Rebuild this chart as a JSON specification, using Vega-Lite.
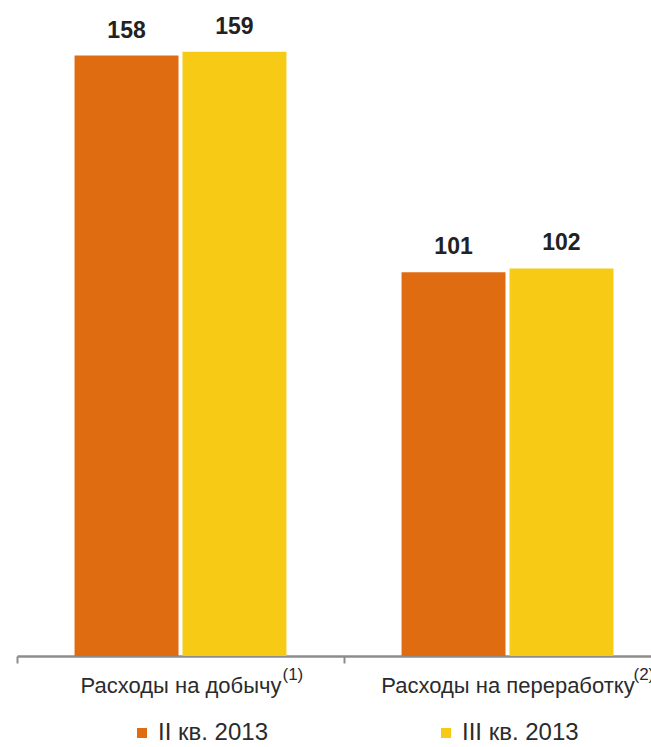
{
  "$schema": "https://vega.github.io/schema/vega-lite/v6.json",
  "autosize": "none",
  "width": 634,
  "height": 646,
  "padding": {"left": 17, "top": 10, "right": 0, "bottom": 91},
  "background": "white",
  "config": {"view": {"stroke": null}, "font": "Liberation Sans"},
  "data": {
    "values": [
      {"cat": "Расходы на добычу", "note": "(1)", "period": "II кв. 2013", "value": 158},
      {"cat": "Расходы на добычу", "note": "(1)", "period": "III кв. 2013", "value": 159},
      {"cat": "Расходы на переработку", "note": "(2)", "period": "II кв. 2013", "value": 101},
      {"cat": "Расходы на переработку", "note": "(2)", "period": "III кв. 2013", "value": 102}
    ]
  },
  "encoding": {
    "x": {
      "field": "cat",
      "type": "nominal",
      "sort": ["Расходы на добычу", "Расходы на переработку"],
      "scale": {"range": [0, 654], "paddingInner": 0.352, "paddingOuter": 0.176},
      "axis": {
        "title": null,
        "labelFont": "Liberation Sans",
        "labelFontSize": 22,
        "labelColor": "#2b2b2b",
        "labelBaseline": "alphabetic",
        "labelPadding": 29,
        "tickOffset": -163.5,
        "labelOffset": 163.5,
        "labelAngle": 0,
        "labelLimit": 500,
        "labelOverlap": false,
        "tickSize": 7,
        "tickWidth": 2,
        "tickColor": "#8c8c8c",
        "domainColor": "#8c8c8c",
        "domainWidth": 2.5
      }
    },
    "y": {
      "field": "value",
      "type": "quantitative",
      "scale": {"domain": [0, 170]},
      "axis": null
    }
  },
  "layer": [
    {
      "mark": {"type": "bar"},
      "encoding": {
        "xOffset": {
          "field": "period",
          "type": "nominal",
          "sort": ["II кв. 2013", "III кв. 2013"],
          "scale": {"paddingInner": 0.037, "paddingOuter": 0}
        },
        "color": {
          "field": "period",
          "type": "nominal",
          "scale": {"domain": ["II кв. 2013", "III кв. 2013"], "range": ["#E06C12", "#F7CB15"]},
          "legend": {
            "orient": "none",
            "legendX": 113,
            "legendY": 711,
            "direction": "horizontal",
            "title": null,
            "symbolType": "square",
            "symbolSize": 100,
            "symbolStrokeWidth": 0,
            "labelFont": "Liberation Sans",
            "labelFontSize": 24,
            "labelColor": "#2b2b2b",
            "labelOffset": 4,
            "labelLimit": 300,
            "columnPadding": 166,
            "padding": 0
          }
        }
      }
    },
    {
      "mark": {"type": "text", "dy": -18, "baseline": "alphabetic", "fontSize": 23, "fontWeight": "bold", "color": "#222222"},
      "encoding": {
        "xOffset": {
          "field": "period",
          "type": "nominal",
          "sort": ["II кв. 2013", "III кв. 2013"]
        },
        "text": {"field": "value", "type": "quantitative"}
      }
    },
    {
      "transform": [{"filter": "datum.period == 'II кв. 2013' && datum.cat == 'Расходы на добычу'"}],
      "mark": {"type": "text", "align": "left", "baseline": "alphabetic", "dx": 102, "dy": 24, "fontSize": 17, "color": "#2b2b2b"},
      "encoding": {
        "y": {"datum": 0},
        "text": {"field": "note", "type": "nominal"}
      }
    },
    {
      "transform": [{"filter": "datum.period == 'II кв. 2013' && datum.cat == 'Расходы на переработку'"}],
      "mark": {"type": "text", "align": "left", "baseline": "alphabetic", "dx": 126, "dy": 24, "fontSize": 17, "color": "#2b2b2b"},
      "encoding": {
        "y": {"datum": 0},
        "text": {"field": "note", "type": "nominal"}
      }
    }
  ]
}
